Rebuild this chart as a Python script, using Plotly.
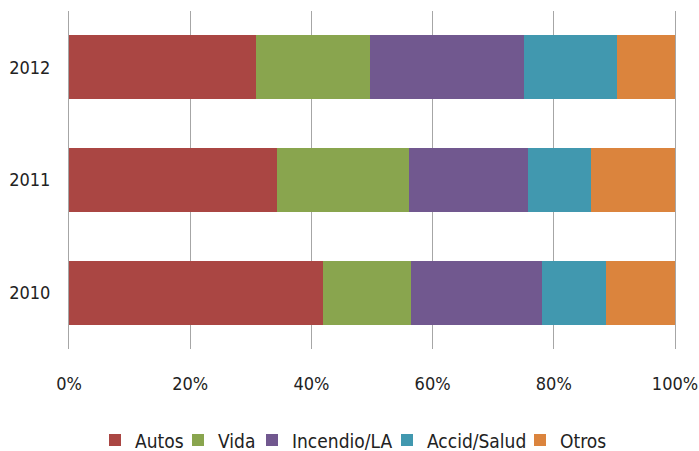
import plotly.graph_objects as go

years = ["2010", "2011", "2012"]
series_names = ["Autos", "Vida", "Incendio/LA", "Accid/Salud", "Otros"]
autos = [41.9, 34.4, 30.9]
vida = [14.5, 21.7, 18.8]
incendio = [21.7, 19.6, 25.4]
accid = [10.5, 10.4, 15.3]
otros = [11.4, 13.9, 9.6]
colors = ["#AA4643", "#89A54E", "#71588F", "#4198AF", "#DB843D"]
x_ticks = [0, 20, 40, 60, 80, 100]
x_ticklabels = ["0%", "20%", "40%", "60%", "80%", "100%"]

FONT = "DejaVu Sans Condensed, Liberation Sans Narrow, Arial Narrow, sans-serif"

W, H = 699, 451
ML, MR, MT, MB = 69, 24, 11, 102
plot_w = W - ML - MR
# legend text start positions in pixels (layout only)
legend_text_px = [135, 218, 292, 427, 560]

fig = go.Figure()
legend_layout = {}
for i, (name, vals, col) in enumerate(zip(series_names, [autos, vida, incendio, accid, otros], colors)):
    lname = "legend" if i == 0 else f"legend{i+1}"
    fig.add_trace(go.Bar(
        y=years, x=vals, name=name, orientation="h",
        marker=dict(color=col, line=dict(width=0)),
        legend=lname,
    ))
    left_px = legend_text_px[i] - 40
    legend_layout[lname] = dict(
        orientation="h", x=(left_px - ML) / plot_w, xanchor="left",
        y=-0.27, yanchor="middle",
        font=dict(family=FONT, size=19, color="#222222"),
        itemwidth=30, bgcolor="rgba(0,0,0,0)", borderwidth=0,
    )

fig.update_layout(
    barmode="stack",
    bargap=0.43,
    width=W, height=H,
    margin=dict(l=ML, r=MR, t=MT, b=MB, autoexpand=False),
    paper_bgcolor="white", plot_bgcolor="white",
    font=dict(family=FONT, size=18, color="#222222"),
    showlegend=True,
    xaxis=dict(
        range=[0, 100], tickvals=x_ticks, ticktext=x_ticklabels,
        showgrid=True, gridcolor="#A6A6A6", gridwidth=1,
        zeroline=False, showline=False, ticks="",
        ticklabelstandoff=22, automargin=False, ticklabeloverflow="allow",
    ),
    yaxis=dict(
        showgrid=False, zeroline=False, ticks="",
        showline=True, mirror=True, linecolor="#A6A6A6", linewidth=1,
        ticklabelstandoff=14, automargin=False,
    ),
    **legend_layout,
)

html = fig.to_html(full_html=True, include_plotlyjs=True, config={"displayModeBar": False})
html = html.replace("<head>", "<head><style>html,body{margin:0;padding:0;overflow:hidden;}</style>", 1)
with open("out.html", "w", encoding="utf-8") as f:
    f.write(html)
